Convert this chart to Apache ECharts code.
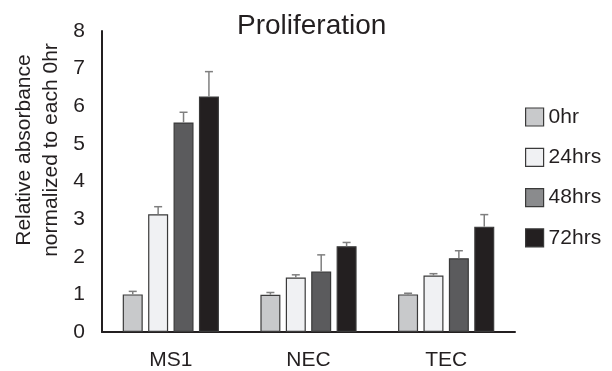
<!DOCTYPE html>
<html><head><meta charset="utf-8">
<script src="https://cdn.jsdelivr.net/npm/echarts@6/dist/echarts.min.js"></script>
<style>html,body{margin:0;padding:0;background:#fff}#c{width:612px;height:371px}</style>
</head><body><div id="c"></div>
<script>
const categories = ['MS1', 'NEC', 'TEC'];
const seriesNames = ['0hr', '24hrs', '48hrs', '72hrs'];
const v0hr = [1.0, 0.99, 1.0];
const v24hrs = [3.13, 1.45, 1.5];
const v48hrs = [5.57, 1.61, 1.96];
const v72hrs = [6.26, 2.28, 2.8];
const e0hr = [0.08, 0.06, 0.03];
const e24hrs = [0.2, 0.07, 0.05];
const e48hrs = [0.27, 0.44, 0.2];
const e72hrs = [0.66, 0.1, 0.32];
const yTicks = [0, 1, 2, 3, 4, 5, 6, 7, 8];

const values = [v0hr, v24hrs, v48hrs, v72hrs];
const errors = [e0hr, e24hrs, e48hrs, e72hrs];
const fills = ['#c8c9cb', '#f0f1f3', '#5b5b5d', '#231f20'];
const borders = ['#3a3a3a', '#3a3a3a', '#3a3a3a', '#3a3a3a'];
const legendFills = ['#c8c9cb', '#f0f1f3', '#8a8b8d', '#231f20'];
const BW = 20, GAP = 5.4;
const font = 'Liberation Sans, Arial, sans-serif';
const ink = '#231f20';
const FS = 21;

const chart = echarts.init(document.getElementById('c'), null, {renderer: 'canvas'});
const series = [];
seriesNames.forEach((n, i) => {
  series.push({
    name: n, type: 'bar', data: values[i], barWidth: BW, barGap: (GAP / BW * 100) + '%',
    itemStyle: {color: fills[i], borderColor: borders[i], borderWidth: 1.2},
    emphasis: {disabled: true}, z: 2
  });
});
seriesNames.forEach((n, i) => {
  const off = (i - 1.5) * (BW + GAP);
  series.push({
    type: 'custom', name: n + '_err', z: 5, silent: true,
    data: values[i].map((v, k) => [k, v, v + errors[i][k]]),
    renderItem: function (params, api) {
      const p0 = api.coord([api.value(0), api.value(1)]);
      const p1 = api.coord([api.value(0), api.value(2)]);
      const x = p0[0] + off;
      const st = {stroke: '#7f7f7f', lineWidth: 1.5};
      return {type: 'group', children: [
        {type: 'line', shape: {x1: x, y1: p0[1], x2: x, y2: p1[1]}, style: st},
        {type: 'line', shape: {x1: x - 4, y1: p1[1], x2: x + 4, y2: p1[1]}, style: st}
      ]};
    }
  });
});

chart.setOption({
  animation: false,
  backgroundColor: '#fff',
  title: {text: 'Proliferation', left: 232, top: 7,
    textStyle: {fontFamily: font, fontSize: 28, fontWeight: 'normal', color: ink}},
  grid: {left: 102, right: 97, top: 31, bottom: 37.7, containLabel: false},
  legend: {
    orient: 'vertical', left: 525, top: 106.5, padding: 0, itemWidth: 18, itemHeight: 18, itemGap: 19.3,
    icon: 'rect',
    textStyle: {fontFamily: font, fontSize: FS, color: ink},
    data: seriesNames.map((n, i) => ({name: n, itemStyle: {color: legendFills[i], borderColor: '#3a3a3a', borderWidth: 1.2}}))
  },
  xAxis: {
    type: 'category', data: categories,
    axisLine: {lineStyle: {color: ink, width: 2}},
    axisTick: {show: false},
    axisLabel: {fontFamily: font, fontSize: FS, color: ink, margin: 18}
  },
  yAxis: {
    type: 'value', min: 0, max: 8, interval: 1,
    axisLine: {show: true, lineStyle: {color: ink, width: 2}},
    axisTick: {show: false},
    splitLine: {show: false},
    axisLabel: {fontFamily: font, fontSize: FS, color: ink, margin: 17,
      formatter: v => yTicks.includes(v) ? String(v) : ''}
  },
  graphic: [{
    type: 'text', rotation: Math.PI / 2, x: 38, y: 150,
    style: {text: 'Relative absorbance\nnormalized to each 0hr', fontFamily: font, fontSize: FS,
      fill: ink, align: 'center', verticalAlign: 'middle', lineHeight: 27}
  }],
  series: series
});
</script></body></html>
